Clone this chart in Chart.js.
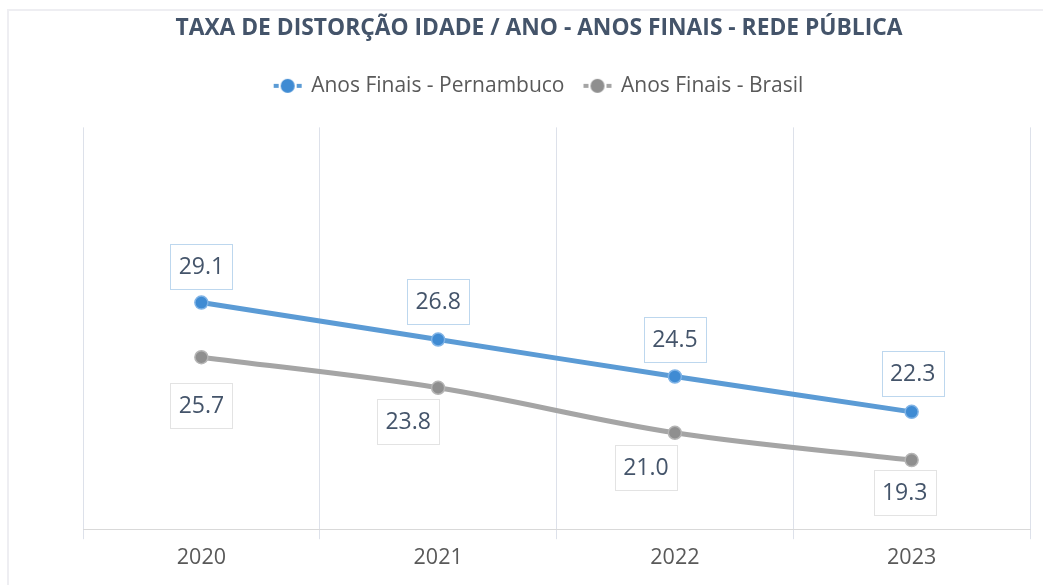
<!DOCTYPE html>
<html>
<head>
<meta charset="utf-8">
<script src="https://cdn.jsdelivr.net/npm/chart.js@4.4.0/dist/chart.umd.min.js"></script>
<style>
  html, body { margin: 0; padding: 0; background: #fff; }
  #wrap { width: 1043px; height: 585px; }
</style>
</head>
<body>
<div id="wrap"><canvas id="chart"></canvas></div>
<script>
// ================= DATA =================
const years = ["2020", "2021", "2022", "2023"];
const pernambuco = [29.1, 26.8, 24.5, 22.3];
const brasil = [25.7, 23.8, 21.0, 19.3];
const seriesNames = ["Anos Finais - Pernambuco", "Anos Finais - Brasil"];
const titleText = "TAXA DE DISTORÇÃO IDADE / ANO - ANOS FINAIS - REDE PÚBLICA";

// ================= STYLE =================
const FONT = "'Open Sans', sans-serif";
const blueLine = "#5b9bd5", blueDot = "#3f8bd3";
const grayLine = "#a5a5a5", grayDot = "#8f8f8f";

function legendMarker(line, dot) {
  const c = document.createElement("canvas");
  c.width = 30; c.height = 16;
  const g = c.getContext("2d");
  g.fillStyle = line;
  g.fillRect(1, 6, 5, 4);
  g.fillRect(24, 6, 5, 4);
  g.fillStyle = dot;
  g.beginPath(); g.arc(15, 8, 7, 0, Math.PI * 2); g.fill();
  return c;
}
const markers = [legendMarker(blueLine, blueDot), legendMarker(grayLine, grayDot)];

// faint frame around the chart
const frame = {
  id: "frame",
  beforeDraw(chart) {
    const c = chart.ctx;
    c.save();
    c.strokeStyle = "#eeeef2";
    c.lineWidth = 2;
    c.strokeRect(8, 10, chart.width + 20, chart.height + 20);
    c.restore();
  }
};

// boxed value labels (like the excel data labels)
const boxLabels = {
  id: "boxLabels",
  afterDatasetsDraw(chart, args, opts) {
    const ctx = chart.ctx;
    ctx.save();
    ctx.font = "23px " + FONT;
    ctx.textAlign = "center";
    ctx.textBaseline = "middle";
    chart.data.datasets.forEach((ds, i) => {
      const meta = chart.getDatasetMeta(i);
      const cfg = opts.series[i];
      meta.data.forEach((pt, j) => {
        const txt = ds.data[j].toFixed(1);
        const x = pt.x + cfg.dx[j], y = pt.y + cfg.dy[j];
        const w = 62, h = 45;
        const bx = Math.round(x - w / 2) + 0.5, by = Math.round(y - h / 2) + 0.5;
        ctx.fillStyle = "#fff";
        ctx.fillRect(bx, by, w, h);
        ctx.strokeStyle = cfg.border;
        ctx.lineWidth = 1;
        ctx.strokeRect(bx, by, w, h);
        ctx.fillStyle = "#44546a";
        ctx.fillText(txt, x, y + 1);
      });
    });
    ctx.restore();
  }
};

const ctx = document.getElementById("chart").getContext("2d");

new Chart(ctx, {
  type: "line",
  data: {
    labels: years,
    datasets: [
      {
        label: seriesNames[0],
        data: pernambuco,
        borderColor: blueLine,
        borderWidth: 5,
        tension: 0.35,
        pointRadius: 6.5,
        pointBackgroundColor: blueDot,
        pointBorderColor: "#7fb3e6",
        pointBorderWidth: 1.5
      },
      {
        label: seriesNames[1],
        data: brasil,
        borderColor: grayLine,
        borderWidth: 5,
        tension: 0.35,
        pointRadius: 6.5,
        pointBackgroundColor: grayDot,
        pointBorderColor: "#b5b5b5",
        pointBorderWidth: 1.5
      }
    ]
  },
  options: {
    responsive: true,
    maintainAspectRatio: false,
    animation: false,
    layout: { padding: { left: 48, right: 13, top: 0, bottom: 8 } },
    plugins: {
      title: {
        display: true,
        text: titleText,
        color: "#44546a",
        font: { family: FONT, size: 22.8, weight: "bold" },
        padding: { top: 15, bottom: 13 }
      },
      // empty spacer between legend and plot area
      subtitle: {
        display: true,
        text: "",
        weight: 500,
        font: { size: 10 },
        padding: { top: 9, bottom: 0 }
      },
      legend: {
        labels: {
          usePointStyle: true,
          pointStyleWidth: 26,
          color: "#595959",
          font: { family: FONT, size: 21 },
          padding: 20,
          generateLabels: chart => chart.data.datasets.map((ds, i) => ({
            text: ds.label,
            pointStyle: markers[i],
            fontColor: "#595959",
            datasetIndex: i,
            hidden: false
          }))
        }
      },
      tooltip: { enabled: false },
      boxLabels: {
        series: [
          { border: "#bdd7ee", dx: [0, 0, 0, 1], dy: [-36, -38, -37, -38] },
          { border: "#e3e3e3", dx: [0, -30, -29, -7], dy: [48, 34, 35, 32] }
        ]
      }
    },
    scales: {
      x: {
        offset: true,
        grid: { offset: true, color: "#dde1ea", tickLength: 10, drawTicks: true },
        border: { color: "#d9d9d9" },
        ticks: { color: "#595959", font: { family: FONT, size: 21.5 }, padding: 6 }
      },
      // hidden value axis, only keeps the left margin of the plot
      y: {
        min: 15,
        max: 40,
        ticks: { display: false },
        grid: { display: false },
        border: { display: false },
        afterFit: scale => { scale.width = 35; }
      }
    }
  },
  plugins: [frame, boxLabels]
});
</script>
</body>
</html>
